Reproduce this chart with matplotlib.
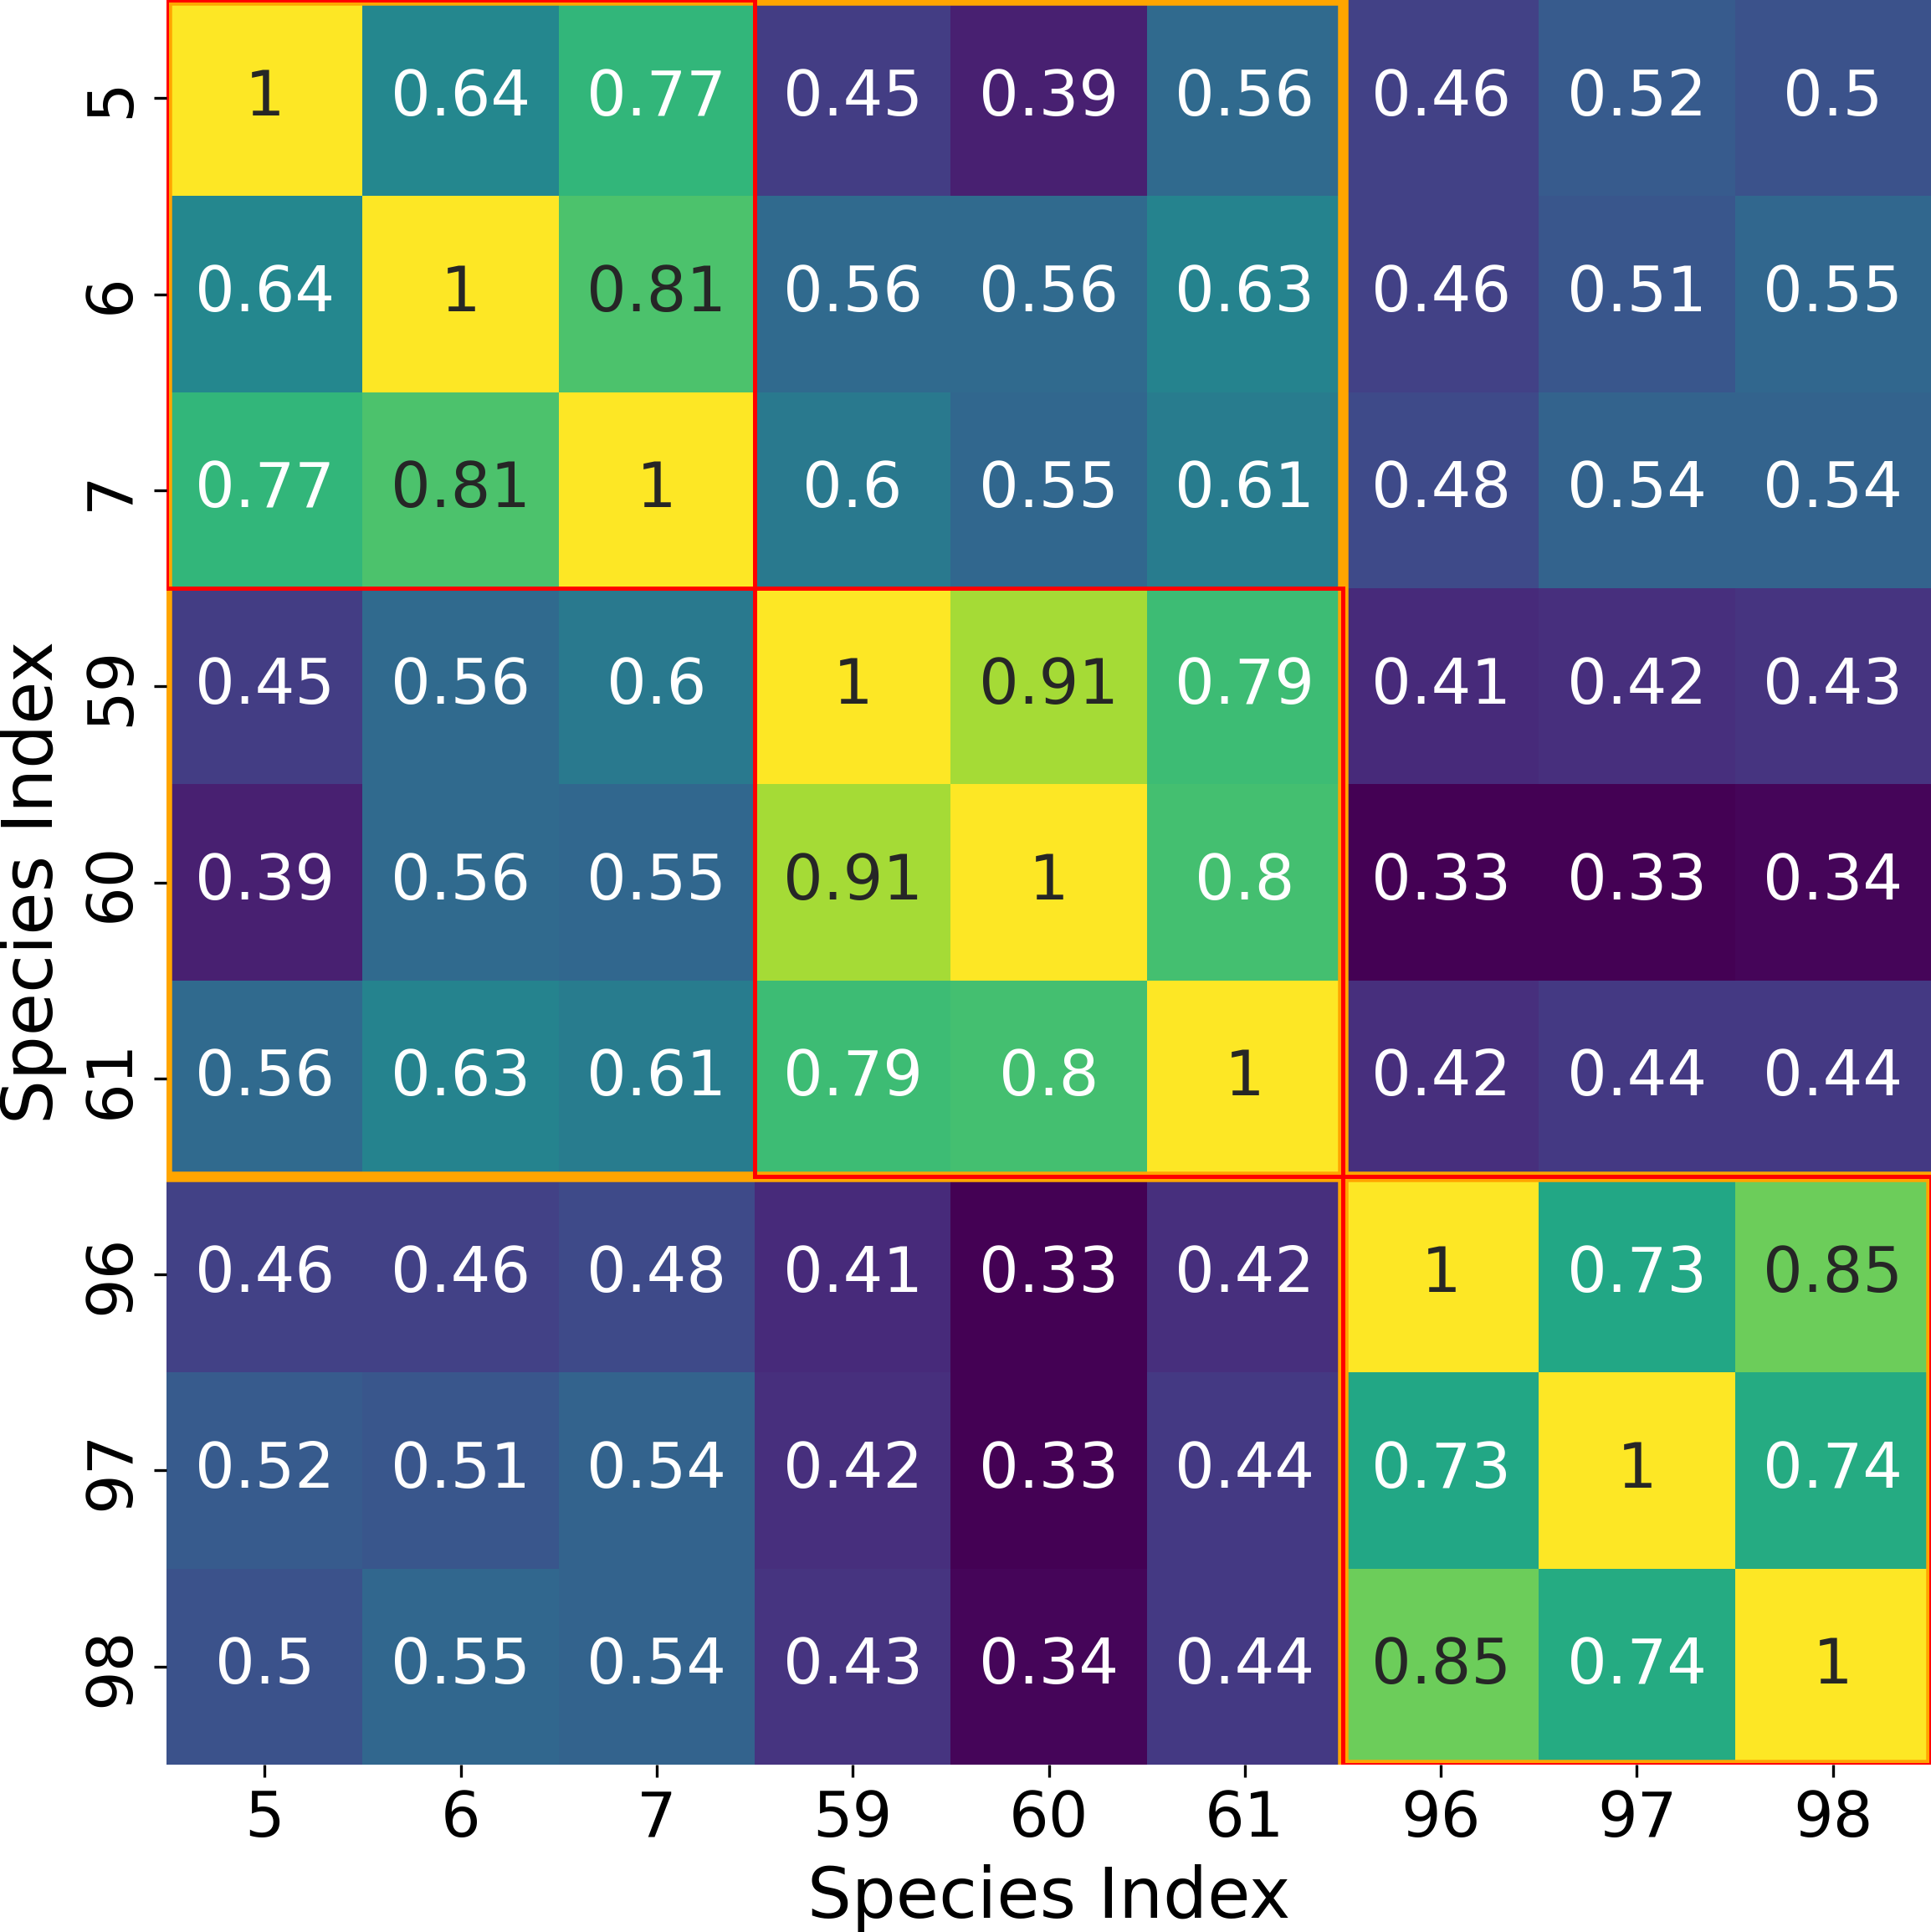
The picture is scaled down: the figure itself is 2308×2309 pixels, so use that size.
import numpy as np
import matplotlib
matplotlib.use("Agg")
import matplotlib.pyplot as plt
from matplotlib.patches import Rectangle
import seaborn as sns

# species labels (same on both axes)
species = ["5", "6", "7", "59", "60", "61", "96", "97", "98"]

# similarity rows
row_5 = [1, 0.64, 0.77, 0.45, 0.39, 0.56, 0.46, 0.52, 0.5]
row_6 = [0.64, 1, 0.81, 0.56, 0.56, 0.63, 0.46, 0.51, 0.55]
row_7 = [0.77, 0.81, 1, 0.6, 0.55, 0.61, 0.48, 0.54, 0.54]
row_59 = [0.45, 0.56, 0.6, 1, 0.91, 0.79, 0.41, 0.42, 0.43]
row_60 = [0.39, 0.56, 0.55, 0.91, 1, 0.8, 0.33, 0.33, 0.34]
row_61 = [0.56, 0.63, 0.61, 0.79, 0.8, 1, 0.42, 0.44, 0.44]
row_96 = [0.46, 0.46, 0.48, 0.41, 0.33, 0.42, 1, 0.73, 0.85]
row_97 = [0.52, 0.51, 0.54, 0.42, 0.33, 0.44, 0.73, 1, 0.74]
row_98 = [0.5, 0.55, 0.54, 0.43, 0.34, 0.44, 0.85, 0.74, 1]

# cluster blocks: (start index, size)
small_blocks = [(0, 3), (3, 3), (6, 3)]
big_blocks = [(0, 6), (6, 3)]

sim = np.array([row_5, row_6, row_7, row_59, row_60, row_61, row_96, row_97, row_98])

plt.rcParams["font.family"] = ["DejaVu Sans"]

fig = plt.figure(figsize=(2308 / 300, 2309 / 300), dpi=300)
ax = fig.add_axes([199 / 2308, 200 / 2309, 2109 / 2308, 2109 / 2309])

sns.heatmap(sim, ax=ax, cmap="viridis", annot=True, cbar=False,
            annot_kws={"size": 18},
            xticklabels=species, yticklabels=species)

# orange = larger groups, red = small groups on top
for start, size in big_blocks:
    ax.add_patch(Rectangle((start, start), size, size, fill=False,
                           edgecolor="orange", lw=3))
for start, size in small_blocks:
    ax.add_patch(Rectangle((start, start), size, size, fill=False,
                           edgecolor="red", lw=1.2))

ax.tick_params(axis="both", labelsize=18)
plt.setp(ax.get_yticklabels(), rotation=90, va="center")
plt.setp(ax.get_xticklabels(), rotation=0)
ax.set_xlabel("Species Index", fontsize=20)
ax.set_ylabel("Species Index", fontsize=20)

fig.savefig("out.png", dpi=300)
